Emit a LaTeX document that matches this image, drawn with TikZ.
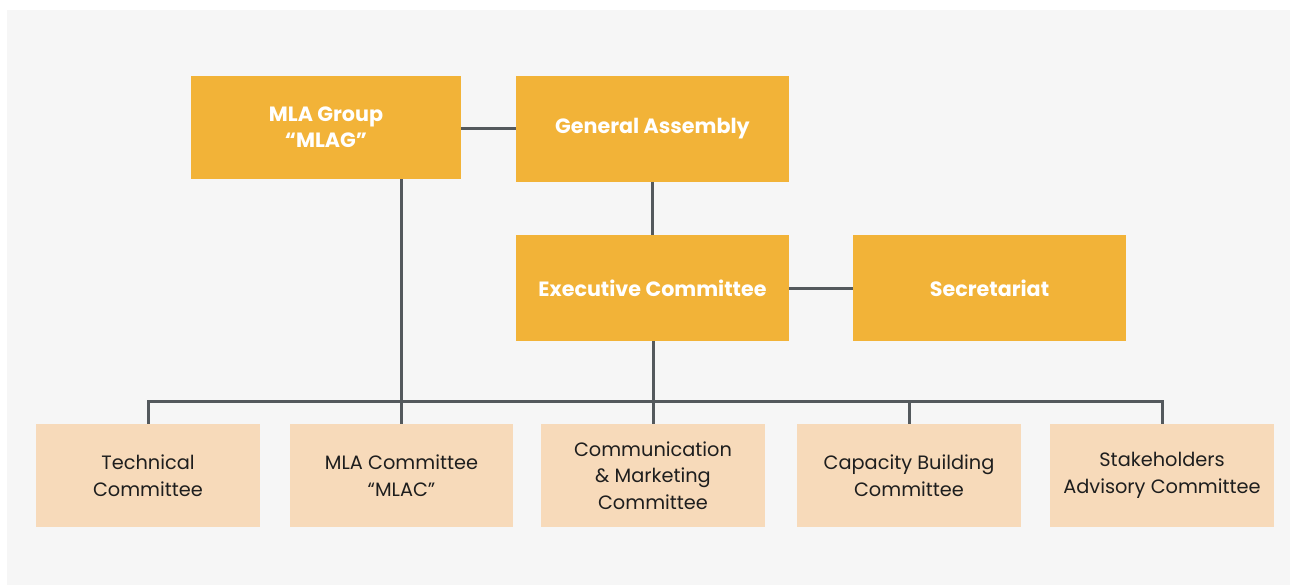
\documentclass[tikz,border=0pt]{standalone}
\usepackage{fontspec}
\setmainfont{Poppins}
\definecolor{bgc}{HTML}{F6F6F6}
\definecolor{gold}{HTML}{F2B338}
\definecolor{peach}{HTML}{F7DABA}
\definecolor{linec}{HTML}{54595D}
\definecolor{txt}{HTML}{1E1E1E}
\tikzset{
  topbox/.style={fill=gold, draw=none, inner sep=0pt, align=center, text=white,
    font=\fontsize{15.5pt}{19.5pt}\selectfont\bfseries, minimum width=204.75pt, minimum height=79.5pt},
  lowbox/.style={fill=peach, draw=none, inner sep=0pt, align=center, text=txt,
    font=\fontsize{14.5pt}{20pt}\selectfont, minimum width=168pt, minimum height=77.25pt},
  conn/.style={draw=linec, line width=2.25pt}
}
\begin{document}
\begin{tikzpicture}[x=0.75pt,y=-0.75pt]
\useasboundingbox (0,0) rectangle (1290,585);
\fill[white] (0,0) rectangle (1290,585);
\fill[bgc] (7,10) rectangle (1290,585);
% top level
\node[topbox, minimum width=202.5pt, minimum height=77.25pt] (mlag) at (326,127.5) {MLA Group\\“MLAG”};
\node[topbox] (ga) at (652.5,129) {General Assembly};
\node[topbox] (ex) at (652.5,288) {Executive Committee};
\node[topbox] (sec) at (989.5,288) {Secretariat};
% committees
\node[lowbox] (tech) at (148,475.5) {Technical\\Committee};
\node[lowbox, minimum width=167.25pt] (mlac) at (401.5,475.5) {MLA Committee\\“MLAC”};
\node[lowbox] (comm) at (653,475.5) {Communication\\\& Marketing\\Committee};
\node[lowbox] (cap) at (909,475.5) {Capacity Building\\Committee};
\node[lowbox] (stake) at (1162,475.5) {Stakeholders\\Advisory Committee};
\coordinate (bus) at (0,401);
% connectors
\draw[conn] (ga.west) -- (ga.west -| mlag.east);
\draw[conn] (ga.south) -- (ex.north);
\draw[conn] (ex.east) -- (sec.west);
\draw[conn] (tech.north) |- (bus -| stake.north) -- (stake.north);
\draw[conn] (mlac.north) -- (mlac.north |- mlag.south);
\draw[conn] (comm.north) -- (comm.north |- ex.south);
\draw[conn] (cap.north) -- (cap.north |- bus);
\end{tikzpicture}
\end{document}
